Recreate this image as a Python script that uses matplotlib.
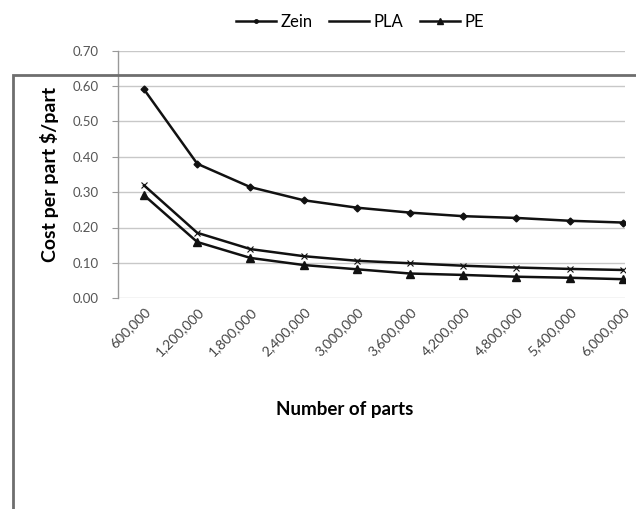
import matplotlib
matplotlib.use("Agg")
import matplotlib.pyplot as plt
from matplotlib.patches import Rectangle
from matplotlib.lines import Line2D

# Production volume (number of parts) and cost per part for each material
parts = ["600,000", "1,200,000", "1,800,000", "2,400,000", "3,000,000",
         "3,600,000", "4,200,000", "4,800,000", "5,400,000", "6,000,000"]
zein = [0.59, 0.38, 0.314, 0.277, 0.256, 0.242, 0.232, 0.227, 0.219, 0.214]
pla = [0.319, 0.185, 0.139, 0.119, 0.106, 0.099, 0.092, 0.087, 0.083, 0.080]
pe = [0.291, 0.159, 0.114, 0.094, 0.082, 0.070, 0.066, 0.061, 0.058, 0.054]
yticks = [0.0, 0.1, 0.2, 0.3, 0.4, 0.5, 0.6, 0.7]

plt.rcParams["font.family"] = ["Lato", "DejaVu Sans"]

W, H = 636, 509
fig = plt.figure(figsize=(W / 100, H / 100), dpi=100)
fig.patch.set_facecolor("white")

left, right, top, bottom = 118, 625, 50.5, 298.3
ax = fig.add_axes([left / W, 1 - bottom / H, (right - left) / W, (bottom - top) / H])

x = list(range(len(parts)))
ax.plot(x, zein, color="#111111", lw=1.8, marker="D", ms=3.5, zorder=3)
ax.plot(x, pla, color="#111111", lw=1.8, marker="x", ms=4, mew=0.8, zorder=3)
ax.plot(x, pe, color="#111111", lw=1.8, marker="^", ms=5.5, zorder=3)

ax.set_xlim(-0.49, 9.04)
ax.set_ylim(0, 0.7)
ax.set_yticks(yticks)
ax.set_yticklabels([f"{v:.2f}" for v in yticks], fontsize=9.5, color="#555555")
ax.set_xticks(x)
ax.set_xticklabels(parts, rotation=45, ha="right", rotation_mode="anchor",
                   fontsize=10, color="#444444")
ax.tick_params(axis="x", length=0, pad=5)
ax.tick_params(axis="y", length=4, color="#999999", pad=10)

ax.grid(axis="y", color="#c8c8c8", lw=1.0)
ax.set_axisbelow(True)
for s in ("top", "right", "bottom"):
    ax.spines[s].set_visible(False)
ax.spines["left"].set_color("#999999")
ax.spines["left"].set_linewidth(1.0)

ax.set_ylabel("Cost per part $/part", fontsize=14, fontweight="bold", labelpad=10)
fig.text(345 / W, 1 - 410 / H, "Number of parts", fontsize=13.5, fontweight="bold",
         ha="center", va="center")

handles = [
    Line2D([], [], color="#111111", lw=1.8, marker="o", ms=2.5),
    Line2D([], [], color="#111111", lw=1.8),
    Line2D([], [], color="#111111", lw=1.8, marker="^", ms=4.5),
]
fig.legend(handles, ["Zein", "PLA", "PE"], loc="center",
           bbox_to_anchor=(360 / W, 1 - 22 / H), ncol=3, frameon=False,
           fontsize=12, handlelength=2.4, handletextpad=0.25, columnspacing=1.0)

# Outer frame
fig.patches.append(Rectangle((12.5 / W, -0.05), 1.0, 1 - 75 / H + 0.05,
                             transform=fig.transFigure, fill=False,
                             edgecolor="#6e6e6e", lw=2.0, zorder=10))

fig.savefig("out.png", dpi=100)
